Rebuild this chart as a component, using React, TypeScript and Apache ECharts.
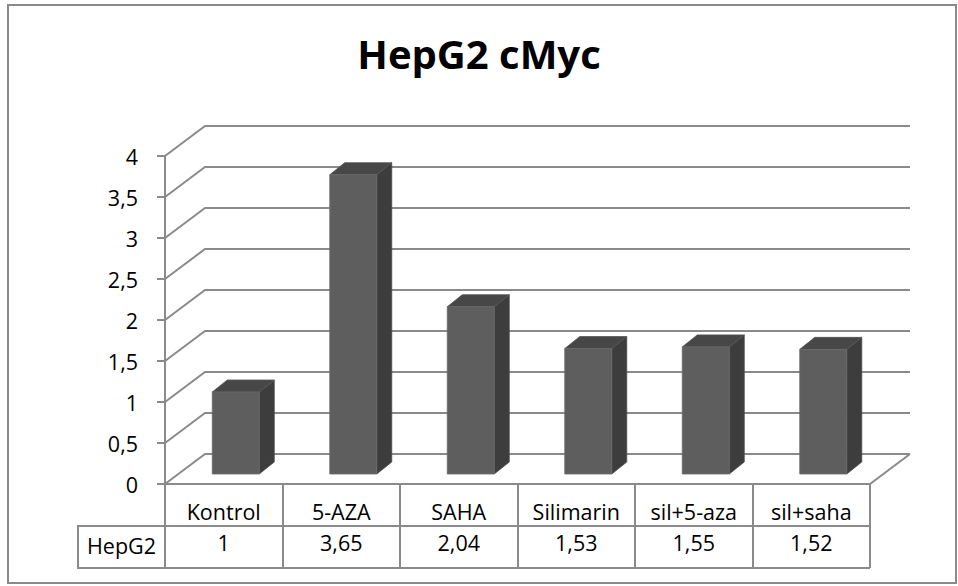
import React, { useEffect, useRef } from 'react';
import * as echarts from 'echarts';

const TITLE = 'HepG2 cMyc';
const SERIES_NAME = 'HepG2';
const categories = ['Kontrol', '5-AZA', 'SAHA', 'Silimarin', 'sil+5-aza', 'sil+saha'];
const values = [1, 3.65, 2.04, 1.53, 1.55, 1.52];
const yTicks = [0, 0.5, 1, 1.5, 2, 2.5, 3, 3.5, 4];

const fmt = (v: number) => String(v).replace('.', ',');

export default function App() {
  const ref = useRef<HTMLDivElement>(null);
  useEffect(() => {
    const chart = echarts.init(ref.current!, null, { renderer: 'svg' });
    const W = 958, H = 586;
    const GRID_L = 165, GRID_R = 870, GRID_T = 156, GRID_B = 484;
    const DX = 40, DY = -30; // wall depth
    const FDX = 12, FDY = -10; // bar front offset
    const BDX = 15, BDY = -12; // bar depth
    const gridColor = '#8a8a8a';
    const font = '"Open Sans", sans-serif';
    const ROW2 = 526, ROW_END = 568, HEAD_L = 78;

    chart.setOption({
      animation: false,
      backgroundColor: '#ffffff',
      title: {
        text: TITLE,
        left: 'center',
        top: 33,
        padding: [0, 0, 0, 14],
        textStyle: { fontFamily: font, fontWeight: 'bold', fontSize: 40, color: '#000' },
      },
      grid: { left: GRID_L, right: W - GRID_R, top: GRID_T, bottom: H - GRID_B, containLabel: false },
      xAxis: [
        {
          type: 'category',
          data: categories,
          position: 'bottom',
          axisLine: { show: true, lineStyle: { color: gridColor, width: 2 } },
          axisTick: { show: true, interval: 0, length: ROW_END - GRID_B, alignWithLabel: false, lineStyle: { color: gridColor, width: 2 } },
          axisLabel: { interval: 0, margin: 16, fontFamily: font, fontSize: 21.5, color: '#000' },
          splitLine: { show: false },
        },
        {
          type: 'category',
          data: values.map(fmt),
          position: 'bottom',
          offset: 31,
          axisLine: { show: false },
          axisTick: { show: false },
          axisLabel: { interval: 0, margin: 16, fontFamily: font, fontSize: 21.5, color: '#000' },
          splitLine: { show: false },
        },
      ],
      yAxis: {
        type: 'value',
        min: 0,
        max: 4,
        interval: 0.5,
        axisLine: { show: true, lineStyle: { color: gridColor, width: 2 } },
        axisTick: { show: true, length: 8, lineStyle: { color: gridColor, width: 2 } },
        axisLabel: { margin: 27, padding: [10, 0, 0, 0], fontFamily: font, fontSize: 21.5, color: '#000', formatter: (v: number) => fmt(v) },
        splitLine: { show: false },
      },
      series: [
        {
          type: 'custom',
          name: 'walls',
          clip: false,
          z: 1,
          silent: true,
          data: yTicks.map((v) => [0, v]),
          encode: { x: 0, y: 1 },
          renderItem: (params: any, api: any) => {
            const v = api.value(1);
            const y = api.coord([0, v])[1];
            const cs = params.coordSys;
            const x0 = cs.x, x1 = cs.x + cs.width;
            const children: any[] = [
              {
                type: 'polyline',
                shape: { points: [[x0, y], [x0 + DX, y + DY], [x1 + DX, y + DY]] },
                style: { stroke: gridColor, lineWidth: 2, fill: 'none' },
              },
            ];
            if (v === 0) {
              children.push({
                type: 'line',
                shape: { x1: x1, y1: y, x2: x1 + DX, y2: y + DY },
                style: { stroke: gridColor, lineWidth: 2 },
              });
            }
            return { type: 'group', children };
          },
        },
        {
          type: 'custom',
          name: SERIES_NAME,
          clip: false,
          z: 3,
          data: values.map((v, i) => [i, v]),
          encode: { x: 0, y: 1 },
          renderItem: (params: any, api: any) => {
            const i = api.value(0);
            const v = api.value(1);
            const p = api.coord([i, v]);
            const base = api.coord([i, 0]);
            const bw = api.size([1, 0])[0];
            const w = bw * 0.4;
            const x0 = p[0] - w / 2 + FDX;
            const top = p[1] + FDY;
            const bot = base[1] + FDY;
            return {
              type: 'group',
              children: [
                {
                  type: 'polygon',
                  shape: { points: [[x0 + w, top], [x0 + w + BDX, top + BDY], [x0 + w + BDX, bot + BDY], [x0 + w, bot]] },
                  style: { fill: '#3d3d3d', stroke: '#4a4a4a', lineWidth: 0.8 },
                },
                {
                  type: 'polygon',
                  shape: { points: [[x0, top], [x0 + BDX, top + BDY], [x0 + w + BDX, top + BDY], [x0 + w, top]] },
                  style: { fill: '#474747', stroke: '#555555', lineWidth: 0.8 },
                },
                {
                  type: 'rect',
                  shape: { x: x0, y: top, width: w, height: bot - top },
                  style: { fill: '#5e5e5e', stroke: '#6a6a6a', lineWidth: 0.8 },
                },
              ],
            };
          },
        },
      ],
      graphic: [
        {
          type: 'rect',
          silent: true,
          shape: { x: 8, y: 5, width: 948, height: 578 },
          style: { fill: 'none', stroke: '#8a8a8a', lineWidth: 2 },
        },
        {
          type: 'polyline',
          silent: true,
          shape: { points: [[GRID_R, ROW2], [HEAD_L, ROW2], [HEAD_L, ROW_END], [GRID_R, ROW_END]] },
          style: { fill: 'none', stroke: gridColor, lineWidth: 2 },
        },
        {
          type: 'text',
          silent: true,
          x: (HEAD_L + GRID_L) / 2,
          y: (ROW2 + ROW_END) / 2 - 2,
          style: { text: SERIES_NAME, fontFamily: font, fontSize: 21.5, fill: '#000', align: 'center', verticalAlign: 'middle' },
        },
      ],
    });
    return () => chart.dispose();
  }, []);
  return <div ref={ref} style={{ position: 'fixed', left: 0, top: 0, width: 958, height: 586 }} />;
}
